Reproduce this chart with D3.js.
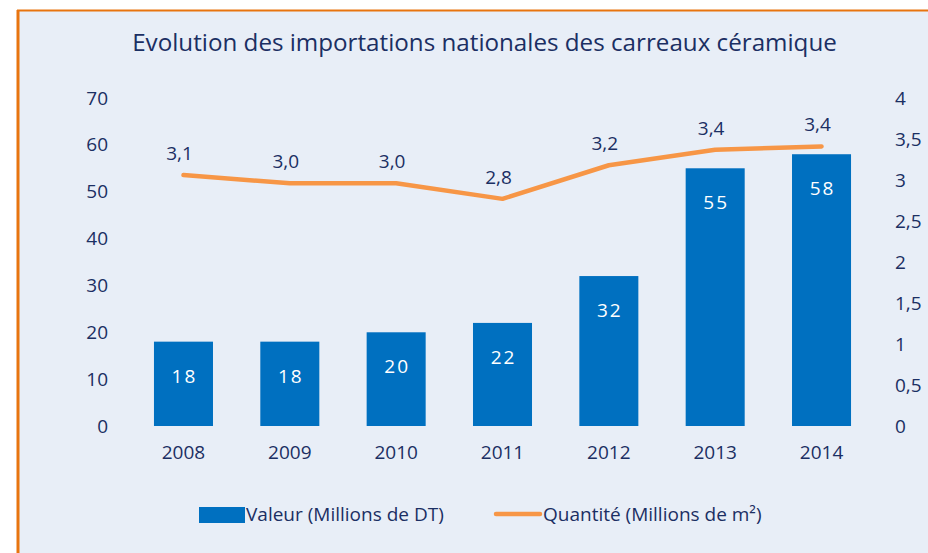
<!DOCTYPE html>
<html><head><meta charset="utf-8">
<script src="https://cdn.jsdelivr.net/npm/d3@7"></script>
<style>body{margin:0;background:#fff}svg{display:block}</style>
</head><body><svg id="c" width="928" height="553"></svg>
<script>
const years = ["2008","2009","2010","2011","2012","2013","2014"];
const valeur = [18, 18, 20, 22, 32, 55, 58];
const quantite = [3.06, 2.96, 2.96, 2.77, 3.18, 3.37, 3.41];
const leftTicks = [0,10,20,30,40,50,60,70];
const rightTicks = [0,0.5,1,1.5,2,2.5,3,3.5,4];
const title = "Evolution des importations nationales des carreaux céramique";
const legendLabels = ["Valeur (Millions de DT)", "Quantité (Millions de m²)"];

const svg = d3.select("#c");
const font = "'Open Sans', sans-serif";
const navy = "#1b2f63";
svg.append("rect").attr("x",17).attr("y",10).attr("width",928).attr("height",560).attr("fill","#e8eef7");
svg.append("line").attr("x1",17).attr("x2",928).attr("y1",10.5).attr("y2",10.5).attr("stroke","#e8740f").attr("stroke-width",2);
svg.append("line").attr("x1",18).attr("x2",18).attr("y1",10).attr("y2",553).attr("stroke","#e8740f").attr("stroke-width",3);

svg.append("text").attr("x",484.5).attr("y",51).attr("text-anchor","middle")
  .attr("font-family",font).attr("font-size",24.2).attr("fill",navy).text(title);

const x = d3.scaleBand().domain(years).range([132.7,872.3]).paddingInner(0.445).paddingOuter(0.2);
const y = d3.scaleLinear().domain([0,70]).range([426,98]);
const y2 = d3.scaleLinear().domain([0,4]).range([426,98]);

const gl = svg.append("g").attr("transform","translate(108,0)")
  .call(d3.axisLeft(y).tickValues(leftTicks).tickSize(0).tickPadding(0));
gl.select(".domain").remove();
gl.selectAll("text").attr("font-family",font).attr("font-size",19).attr("fill",navy);

const gr = svg.append("g").attr("transform","translate(895,0)")
  .call(d3.axisRight(y2).tickValues(rightTicks).tickSize(0).tickPadding(0).tickFormat(d=>String(d).replace(".",",")));
gr.select(".domain").remove();
gr.selectAll("text").attr("font-family",font).attr("font-size",19).attr("fill",navy);

const gx = svg.append("g").attr("transform","translate(0,445)")
  .call(d3.axisBottom(x).tickSize(0).tickPadding(0));
gx.select(".domain").remove();
gx.selectAll("text").attr("font-family",font).attr("font-size",19).attr("fill",navy).attr("dy","0.71em");

svg.selectAll(".bar").data(years).enter().append("rect")
  .attr("x",d=>x(d)).attr("width",x.bandwidth())
  .attr("y",(d,i)=>y(valeur[i])).attr("height",(d,i)=>y(0)-y(valeur[i]))
  .attr("fill","#0070c0");
svg.selectAll(".bl").data(years).enter().append("text")
  .attr("x",d=>x(d)+x.bandwidth()/2+1).attr("y",(d,i)=>y(valeur[i])+41)
  .attr("text-anchor","middle").attr("font-family",font).attr("font-size",19)
  .attr("fill","#fff").attr("letter-spacing","2px").text((d,i)=>valeur[i]);

const line = d3.line().x((d,i)=>x(years[i])+x.bandwidth()/2).y(d=>y2(d));
svg.append("path").datum(quantite).attr("d",line).attr("fill","none")
  .attr("stroke","#f79646").attr("stroke-width",4.5).attr("stroke-linecap","round").attr("stroke-linejoin","round");
svg.selectAll(".ql").data(quantite).enter().append("text")
  .attr("x",(d,i)=>x(years[i])+x.bandwidth()/2-4).attr("y",d=>y2(d)-15)
  .attr("text-anchor","middle").attr("font-family",font).attr("font-size",19).attr("fill",navy)
  .text(d=>d3.format(".1f")(d).replace(".",","));

// legend
svg.append("rect").attr("x",199).attr("y",507).attr("width",46).attr("height",16).attr("fill","#0070c0");
svg.append("text").attr("x",246).attr("y",521).attr("font-family",font).attr("font-size",19).attr("fill",navy).text(legendLabels[0]);
svg.append("line").attr("x1",496).attr("x2",540).attr("y1",514).attr("y2",514).attr("stroke","#f79646").attr("stroke-width",4.5).attr("stroke-linecap","round");
svg.append("text").attr("x",543).attr("y",521).attr("font-family",font).attr("font-size",19).attr("fill",navy).text(legendLabels[1]);
</script></body></html>
